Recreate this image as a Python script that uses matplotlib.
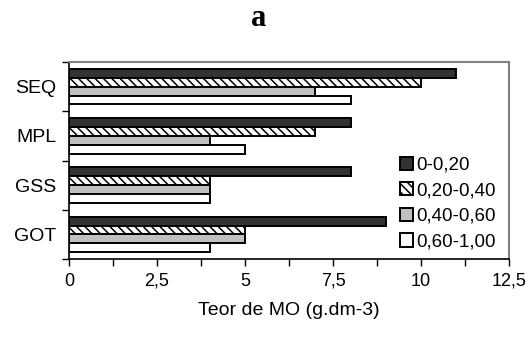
import matplotlib
matplotlib.use("Agg")
import matplotlib.pyplot as plt
import numpy as np

# Organic matter content by site and depth layer
sites = ["GOT", "GSS", "MPL", "SEQ"]
depths = ["0-0,20", "0,20-0,40", "0,40-0,60", "0,60-1,00"]
v_0_20 = [9, 8, 8, 11]
v_20_40 = [5, 4, 7, 10]
v_40_60 = [5, 4, 4, 7]
v_60_100 = [4, 4, 5, 8]
series = [v_0_20, v_20_40, v_40_60, v_60_100]

x_ticks = [0, 1.25, 2.5, 3.75, 5, 6.25, 7.5, 8.75, 10, 11.25, 12.5]
x_tick_labels = ["0", "", "2,5", "", "5", "", "7,5", "", "10", "", "12,5"]

plt.rcParams["font.family"] = ["Liberation Sans", "DejaVu Sans"]
plt.rcParams["hatch.linewidth"] = 1.1
plt.rcParams["hatch.color"] = "#505050"

fills = ["#333333", "white", "#c0c0c0", "white"]
hatches = [None, "\\\\\\\\", None, None]

fig = plt.figure(figsize=(5.31, 3.41), dpi=100)
ax = fig.add_axes([0.130, 0.2405, 0.8286, 0.5775])

y = np.arange(len(sites))
h = 0.18
offsets = [1.5 * h, 0.5 * h, -0.5 * h, -1.5 * h]
for vals, off, fc, ht, lab in zip(series, offsets, fills, hatches, depths):
    ax.barh(y + off, vals, height=h, color=fc, edgecolor="black",
            linewidth=1.4, hatch=ht, label=lab)

ax.set_xlim(0, 12.5)
ax.set_ylim(-0.5, 3.5)
ax.set_xticks(x_ticks)
ax.set_xticklabels(x_tick_labels, fontsize=13)
ax.set_yticks(y)
ax.set_yticklabels(sites, fontsize=14)
ax.set_yticks(np.arange(-0.5, 3.6, 1.0), minor=True)
ax.tick_params(axis="y", which="major", length=0, pad=9)
ax.tick_params(axis="y", which="minor", length=5, width=1.0, direction="out")
ax.tick_params(axis="x", length=5, width=1.0, direction="out", pad=5)

for s in ["top", "right"]:
    ax.spines[s].set_color("#808080")
    ax.spines[s].set_linewidth(1.5)
for s in ["left", "bottom"]:
    ax.spines[s].set_color("black")
    ax.spines[s].set_linewidth(1.2)

ax.set_xlabel("Teor de MO (g.dm-3)", fontsize=14, labelpad=9)

handles, labels = ax.get_legend_handles_labels()
leg = ax.legend(handles, labels, loc="lower right", bbox_to_anchor=(0.99, 0.0),
                frameon=False, fontsize=13.5, handlelength=0.7,
                handleheight=0.7, handletextpad=0.2, labelspacing=0.45,
                borderaxespad=0.05)

fig.text(0.488, 0.945, "a", family=["Liberation Serif"], fontweight="bold",
         fontsize=22, ha="center", va="center")

fig.savefig("out.png", dpi=100)
